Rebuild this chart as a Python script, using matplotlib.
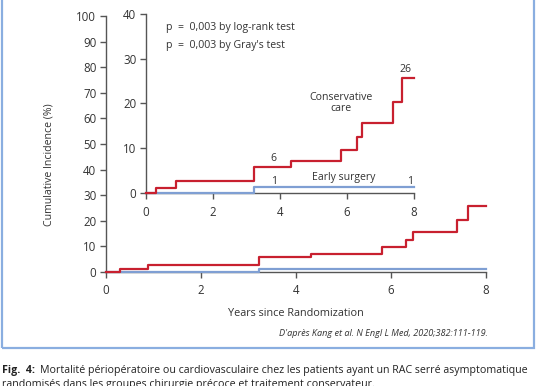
import numpy as np
import matplotlib
matplotlib.use('Agg')
from matplotlib import pyplot as plt
from matplotlib.patches import Rectangle

# step data (years, cumulative incidence %)
cons_t = [0, 0.30, 0.89, 3.22, 4.32, 5.81, 6.31, 6.46, 7.38, 7.63, 8.0]
cons_y = [0, 1.2, 2.7, 5.7, 7.2, 9.6, 12.6, 15.6, 20.3, 25.6, 25.6]
early_t = [0, 3.22, 8.0]
early_y = [0, 1.3, 1.3]

x_ticks = [0, 2, 4, 6, 8]
main_yticks = [0, 10, 20, 30, 40, 50, 60, 70, 80, 90, 100]
inset_yticks = [0, 10, 20, 30, 40]

red = '#c8202f'
blue = '#7f9fd3'
axc = '#555555'
txt = '#333333'

W, H = 536, 386
fig = plt.figure(figsize=(W / 100, H / 100), dpi=100)
plt.rcParams['font.family'] = ['Open Sans', 'DejaVu Sans']


def px_axes(x0, x1, y0, y1):
    # pixel box -> figure axes
    return fig.add_axes([x0 / W, 1 - y1 / H, (x1 - x0) / W, (y1 - y0) / H])


def style(ax, ymax, yticks, fs):
    for s in ['top', 'right']:
        ax.spines[s].set_visible(False)
    for s in ['left', 'bottom']:
        ax.spines[s].set_color(axc)
        ax.spines[s].set_linewidth(1.0)
    ax.set_xlim(0, 8)
    ax.set_ylim(0, ymax)
    ax.set_xticks(x_ticks)
    ax.set_yticks(yticks)
    ax.tick_params(direction='out', length=4, width=1, color=axc,
                   labelsize=fs, labelcolor=txt)
    ax.tick_params(axis='x', pad=5)
    ax.tick_params(axis='y', pad=3)
    ax.patch.set_alpha(0)


# main panel
ax = px_axes(106, 486, 16, 272)
style(ax, 100, main_yticks, 8.3)
ax.step(early_t, early_y, where='post', color=blue, lw=1.6, clip_on=False, zorder=3)
ax.step(cons_t, cons_y, where='post', color=red, lw=1.6, clip_on=False, zorder=4)
ax.set_xlabel('Years since Randomization', fontsize=7.8, color=txt)
ax.xaxis.set_label_coords(0.5, -0.14)
ax.set_ylabel('Cumulative Incidence (%)', fontsize=7.6, color=txt)
ax.yaxis.set_label_coords(-0.135, 0.42)

# inset panel
ins = px_axes(146, 414, 14, 193)
style(ins, 40, inset_yticks, 8.3)
ins.step(early_t, early_y, where='post', color=blue, lw=1.6, clip_on=False, zorder=3)
ins.step(cons_t, cons_y, where='post', color=red, lw=1.6, clip_on=False, zorder=4)

fs_in = 7.6
ins.text(0.6, 37.0, 'p  =  0,003 by log-rank test', fontsize=fs_in, color=txt, va='center')
ins.text(0.6, 33.0, "p  =  0,003 by Gray's test", fontsize=fs_in, color=txt, va='center')
ins.text(7.75, 27.6, '26', fontsize=fs_in, color=txt, ha='center', va='center')
ins.text(5.82, 20.1, 'Conservative\ncare', fontsize=fs_in, color=txt, ha='center', va='center',
         linespacing=1.0)
ins.text(3.81, 7.6, '6', fontsize=fs_in, color=txt, ha='center', va='center')
ins.text(3.81, 2.6, '1', fontsize=fs_in, color=txt, ha='center', va='center')
ins.text(5.90, 3.5, 'Early surgery', fontsize=fs_in, color=txt, ha='center', va='center')
ins.text(7.88, 2.6, '1', fontsize=fs_in, color=txt, ha='center', va='center')

# source, frame and caption
fig.text(488 / W, 1 - 333 / H, "D'après Kang et al. N Engl L Med, 2020;382:111-119.",
         fontsize=6.6, style='italic', color=txt, ha='right', va='center')
fig.patches.append(Rectangle((2 / W, 1 - 348 / H), 532 / W, 360 / H,
                             transform=fig.transFigure, fill=False,
                             edgecolor='#8aaee0', lw=1.6))
fig.text(2 / W, 1 - 370 / H, 'Fig.  4:', fontsize=7.7, weight='bold', color='#222222', va='center')
fig.text(40 / W, 1 - 370 / H,
         'Mortalité périopératoire ou cardiovasculaire chez les patients ayant un RAC serré asymptomatique',
         fontsize=7.7, color='#222222', va='center')
fig.text(2 / W, 1 - 384 / H,
         'randomisés dans les groupes chirurgie précoce et traitement conservateur.',
         fontsize=7.7, color='#222222', va='center')

fig.savefig('out.png', dpi=100)
